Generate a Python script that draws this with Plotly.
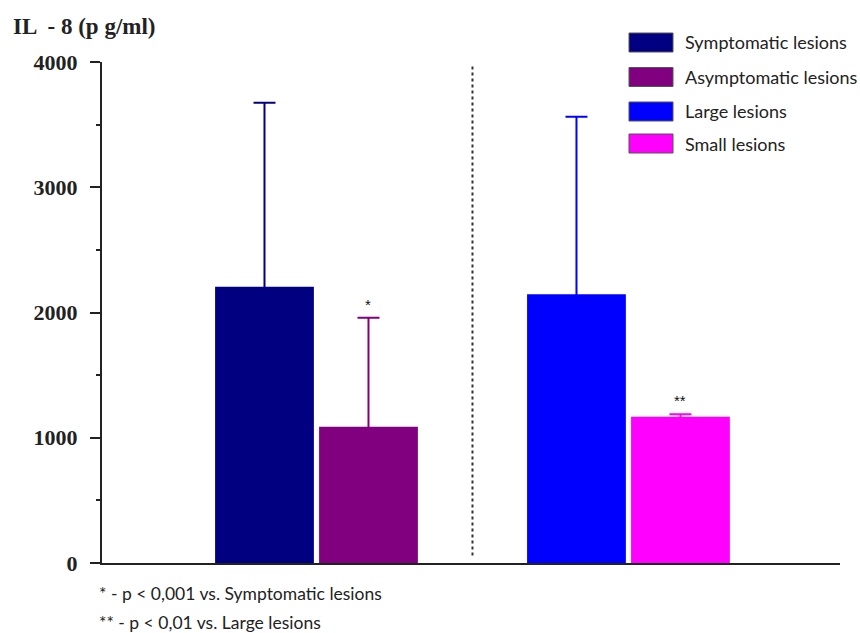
import plotly.graph_objects as go

# ---- data ----
groups = ["Symptomatic lesions", "Asymptomatic lesions", "Large lesions", "Small lesions"]
positions = [1, 2, 4, 5]
means = [2205, 1088, 2145, 1168]
errors_up = [1470, 870, 1418, 20]
colors = ["#000080", "#800080", "#0000FF", "#FF00FF"]
sig_marks = ["", "*", "", "**"]
y_ticks = [0, 1000, 2000, 3000, 4000]
title_text = "IL  - 8 (p g/ml)"
footnotes = ["* - p < 0,001 vs. Symptomatic lesions", "** - p < 0,01 vs. Large lesions"]

W, H = 860, 633
L, R, T, B = 102, 20, 62, 70
PW, PH = W - L - R, H - T - B
ERR_BASE_INSET = 40  # start whisker slightly inside the bar so the lower cap is hidden


def px(xp):
    return (xp - L) / PW


def py(yp):
    return (H - B - yp) / PH


fig = go.Figure()
for g, xpos, m, c in zip(groups, positions, means, colors):
    fig.add_trace(go.Bar(
        x=[xpos], y=[m], name=g, width=0.95,
        marker=dict(color=c, line=dict(width=0)),
        showlegend=False, hoverinfo="skip",
    ))
for xpos, m, e, c in zip(positions, means, errors_up, colors):
    fig.add_trace(go.Scatter(
        x=[xpos], y=[m - ERR_BASE_INSET], mode="markers",
        marker=dict(size=1, color=c, opacity=0),
        error_y=dict(type="data", symmetric=False, array=[e + ERR_BASE_INSET], arrayminus=[0],
                     color=c, thickness=2, width=11),
        showlegend=False, hoverinfo="skip",
    ))

annotations = []
for xpos, m, e, s in zip(positions, means, errors_up, sig_marks):
    if s:
        annotations.append(dict(x=xpos, y=m + e, xref="x", yref="y", text=s, showarrow=False,
                                yanchor="bottom", yshift=3,
                                font=dict(family="Liberation Sans", size=15, color="#111")))

# custom legend
legend_rows = [42.5, 77, 111.5, 143.5]
shapes = []
for g, c, ry in zip(groups, colors, legend_rows):
    shapes.append(dict(type="rect", xref="paper", yref="paper",
                       x0=px(629), x1=px(673), y0=py(ry + 9.5), y1=py(ry - 9.5),
                       fillcolor=c, line=dict(width=1, color="#555")))
    annotations.append(dict(x=px(683), y=py(ry), xref="paper", yref="paper", text=g,
                            showarrow=False, xanchor="left", yanchor="middle",
                            font=dict(family="Lato", size=18, color="#222")))

# dotted separator
shapes.append(dict(type="line", xref="x", yref="y", x0=3, x1=3, y0=60, y1=3980,
                   line=dict(color="#333", width=2, dash="dot")))

annotations.append(dict(x=px(11), y=py(26), xref="paper", yref="paper", text="<b>" + title_text + "</b>",
                        showarrow=False, xanchor="left", yanchor="middle",
                        font=dict(family="Liberation Serif", size=23, color="#222")))
for ftxt, fy in zip(footnotes, [593, 622]):
    annotations.append(dict(x=px(97), y=py(fy), xref="paper", yref="paper", text=ftxt,
                            showarrow=False, xanchor="left", yanchor="middle",
                            font=dict(family="Lato", size=17.5, color="#222")))

fig.update_layout(
    width=W, height=H,
    margin=dict(l=L, r=R, t=T, b=B),
    paper_bgcolor="white", plot_bgcolor="white",
    barmode="overlay",
    shapes=shapes, annotations=annotations,
    showlegend=False,
)
fig.update_xaxes(range=[-0.5625, 6.534], showgrid=False, zeroline=False, showticklabels=False,
                 ticks="", showline=True, linecolor="#222", linewidth=2)
fig.update_yaxes(range=[0, 4000], tickvals=y_ticks, showgrid=False, zeroline=False,
                 showline=True, linecolor="#222", linewidth=2,
                 ticks="outside", ticklen=10, tickwidth=2, tickcolor="#222",
                 minor=dict(dtick=500, ticks="outside", ticklen=4, tickwidth=2, tickcolor="#222"),
                 ticklabelstandoff=8,
                 tickfont=dict(family="Liberation Serif", size=22, color="#222", weight="bold"))

fig.write_html("out.html", config={"displayModeBar": False},
               post_script="document.body.style.margin='0';document.body.style.overflow='hidden';")
